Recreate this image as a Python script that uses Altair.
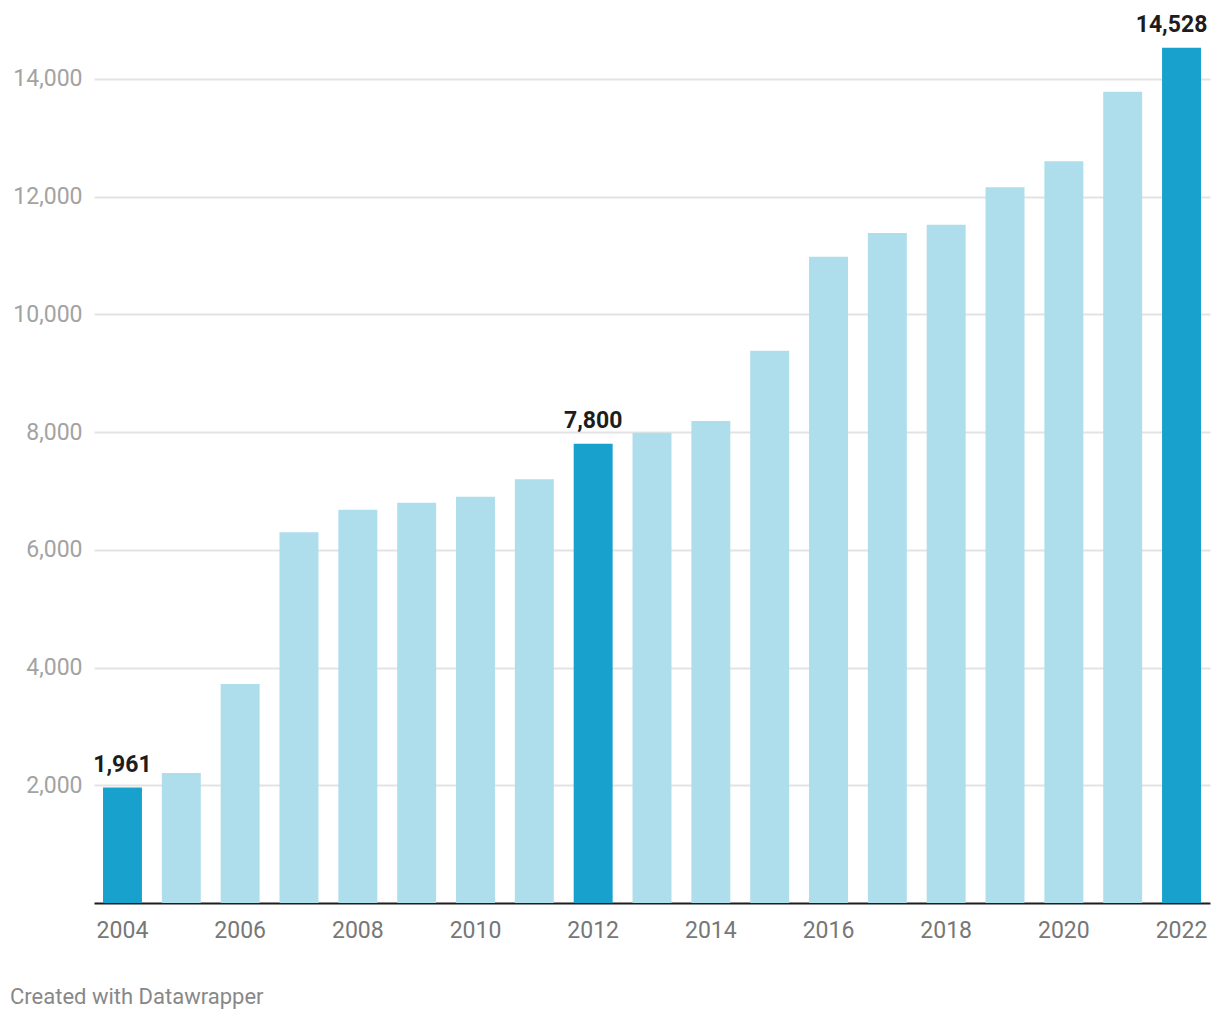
import altair as alt
import pandas as pd

years = [str(y) for y in range(2004, 2023)]
values = [1961, 2210, 3720, 6300, 6680, 6800, 6900, 7200, 7800, 7990,
          8190, 9380, 10980, 11380, 11520, 12160, 12600, 13780, 14528]
highlighted = ["2004", "2012", "2022"]
x_tick_labels = [str(y) for y in range(2004, 2023, 2)]
y_tick_values = [2000, 4000, 6000, 8000, 10000, 12000, 14000]
footer = "Created with Datawrapper"

df = pd.DataFrame({"year": years, "value": values})
df["group"] = ["hi" if y in highlighted else "lo" for y in years]

FONT = "Roboto"

x_enc = alt.X(
    "year:N",
    sort=years,
    scale=alt.Scale(paddingInner=0.338, paddingOuter=0.153),
    axis=alt.Axis(
        title=None,
        values=x_tick_labels,
        labelAngle=0,
        labelFont=FONT,
        labelFontSize=23,
        labelColor="#777777",
        labelPadding=16,
        ticks=False,
        domain=True,
        domainColor="#1d1d1d",
        domainWidth=2,
        grid=False,
    ),
)
y_enc = alt.Y(
    "value:Q",
    scale=alt.Scale(domain=[0, 15000], nice=False),
    axis=alt.Axis(
        title=None,
        values=y_tick_values,
        format=",.0f",
        labelFont=FONT,
        labelFontSize=23,
        labelColor="#a3a3a3",
        labelPadding=12,
        ticks=False,
        domain=False,
        grid=True,
        gridColor="#e3e3e3",
        gridWidth=2,
    ),
)

bars = alt.Chart(df).mark_bar().encode(
    x=x_enc,
    y=y_enc,
    color=alt.Color(
        "group:N",
        scale=alt.Scale(domain=["hi", "lo"], range=["#18a1cd", "#aeddec"]),
        legend=None,
    ),
)

label_base = alt.Chart(df).encode(
    x=alt.X("year:N", sort=years),
    y=alt.Y("value:Q"),
    text=alt.Text("value:Q", format=",.0f"),
)

labels_mid = label_base.mark_text(
    font=FONT, fontSize=23, fontWeight="bold", color="#1d1d1d",
    baseline="alphabetic", dy=-16,
).transform_filter(
    alt.FieldOneOfPredicate(field="year", oneOf=highlighted[:-1])
)

labels_last = label_base.mark_text(
    font=FONT, fontSize=23, fontWeight="bold", color="#1d1d1d",
    baseline="alphabetic", dy=-16, dx=-10,
).transform_filter(
    alt.FieldOneOfPredicate(field="year", oneOf=highlighted[-1:])
)

foot = alt.Chart(pd.DataFrame({"t": [footer]})).mark_text(
    font=FONT, fontSize=22, color="#888888", align="left", baseline="middle",
).encode(
    text="t:N",
    x=alt.value(-84),
    y=alt.value(977),
)

chart = alt.layer(bars, labels_mid, labels_last, foot).properties(
    width=1116,
    height=883,
    padding={"left": 86, "top": 12, "right": 2, "bottom": 115},
    autosize=alt.AutoSizeParams(type="none"),
).configure(background="white").configure_view(stroke=None, strokeWidth=0)

chart.save("out.html", embed_options={"renderer": "svg", "actions": False})
